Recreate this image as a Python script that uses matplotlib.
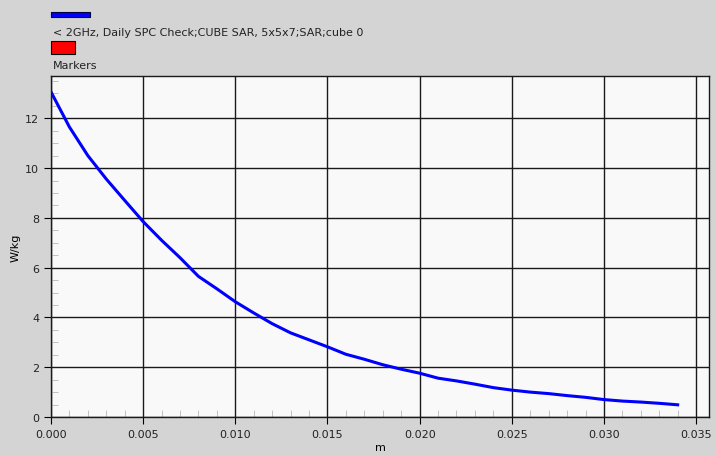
import matplotlib.pyplot as plt
from matplotlib.patches import Rectangle
from matplotlib.ticker import MultipleLocator

# distance (m) and SAR (W/kg)
dist = [0.000, 0.001, 0.002, 0.003, 0.004, 0.005, 0.006, 0.007, 0.008, 0.009,
        0.010, 0.011, 0.012, 0.013, 0.014, 0.015, 0.016, 0.017, 0.018, 0.019,
        0.020, 0.021, 0.022, 0.023, 0.024, 0.025, 0.026, 0.027, 0.028, 0.029,
        0.030, 0.031, 0.032, 0.033, 0.034]
sar = [13.06, 11.65, 10.50, 9.56, 8.70, 7.85, 7.10, 6.40, 5.65, 5.15,
       4.63, 4.18, 3.75, 3.38, 3.10, 2.82, 2.52, 2.32, 2.10, 1.92,
       1.76, 1.56, 1.45, 1.32, 1.18, 1.08, 1.00, 0.94, 0.86, 0.79,
       0.70, 0.64, 0.60, 0.55, 0.49]

series_name = "< 2GHz, Daily SPC Check;CUBE SAR, 5x5x7;SAR;cube 0"
marker_name = "Markers"
xticks = [0.000, 0.005, 0.010, 0.015, 0.020, 0.025, 0.030, 0.035]
yticks = [0, 2, 4, 6, 8, 10, 12]

W, H = 715, 456
fig = plt.figure(figsize=(W / 100, H / 100), dpi=100)
fig.patch.set_facecolor("#d4d4d4")
ax = fig.add_axes([51 / W, 1 - 418 / H, 658 / W, (418 - 77) / H])
ax.set_facecolor("#f9f9f9")

ax.plot(dist, sar, color="#0000ff", lw=2.2)

ax.set_xlim(0, 0.0357)
ax.set_ylim(0, 13.7)
ax.set_xticks(xticks)
ax.set_xticklabels(["%.3f" % v for v in xticks])
ax.set_yticks(yticks)
ax.xaxis.set_minor_locator(MultipleLocator(0.001))
ax.yaxis.set_minor_locator(MultipleLocator(0.5))
ax.tick_params(which="major", direction="out", length=5, color="black",
               labelsize=8, labelcolor="#222222")
ax.tick_params(which="minor", direction="in", length=5, color="#b8b8b8")
ax.grid(which="major", color="#1a1a1a", lw=1)
for s in ax.spines.values():
    s.set_color("#1a1a1a")
    s.set_linewidth(1)

ax.set_xlabel("m", fontsize=8)
ax.xaxis.set_label_coords(0.5, -25 / 341)
ax.set_ylabel("W/kg", fontsize=8)
ax.yaxis.set_label_coords(-30 / 658, 0.5)

# legend drawn in figure pixels
def px(x, y):
    return x / W, 1 - y / H

fig.patches.append(Rectangle(px(51, 18), 39 / W, 5 / H, transform=fig.transFigure,
                             facecolor="#0000ff", edgecolor="#000040", lw=0.8))
fig.text(*px(53, 33), series_name, fontsize=8, va="center", color="#222222")
fig.patches.append(Rectangle(px(51, 55), 24 / W, 13 / H, transform=fig.transFigure,
                             facecolor="#ff0000", edgecolor="#000000", lw=0.8))
fig.text(*px(53, 66), marker_name, fontsize=8, va="center", color="#222222")

fig.savefig("out.png", dpi=100, facecolor=fig.get_facecolor())
